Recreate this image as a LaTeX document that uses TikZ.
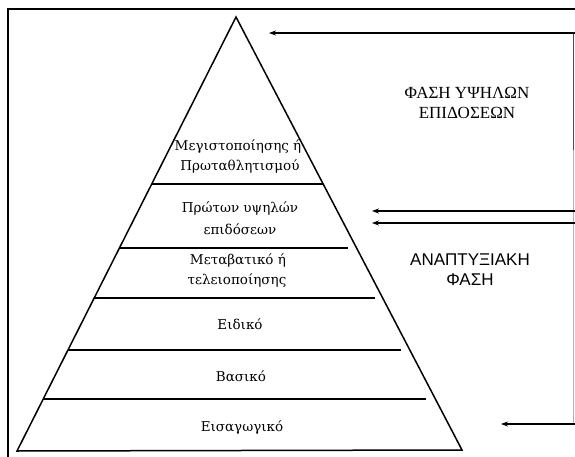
\documentclass[tikz,border=0pt]{standalone}
\usepackage{fontspec}
\setmainfont{DejaVu Serif}
\newfontfamily\phaseserif{Liberation Serif}
\newfontfamily\phasesans{Liberation Sans}
\usetikzlibrary{arrows.meta}
\begin{document}
\begin{tikzpicture}[x=1pt,y=-1pt,
  level/.style={line width=1.2pt},
  side/.style={line width=1.5pt, line join=miter},
  label/.style={font=\fontsize{13.5}{15}\selectfont, align=center, inner sep=0pt},
  phase/.style={align=center, inner sep=0pt},
  arr/.style={line width=1.1pt, -{Stealth[length=7pt,width=5pt]}}]
\useasboundingbox (0,0) rectangle (575,457);

% outer frame (top and left edges)
\draw[line width=2pt] (8,457) -- (8,9.5) -- (575,9.5);

% pyramid corners
\coordinate (apex) at (236,17);
\coordinate (bl) at (17,451);
\coordinate (br) at (462,450);
\draw[side] (bl) -- (apex) -- (br) -- cycle;

% level separators
\draw[level] (152,184) -- (323,184);
\draw[level] (119,248) -- (348,248);
\draw[level] (94,298) -- (375,298);
\draw[level] (68,350) -- (401,350);
\draw[level] (43,399) -- (426,399);

% level names
\node[label] (l1) at (238,147) {Μεγιστοποίησης ή};
\node[label] (l1b) at (240,167) {Πρωταθλητισμού};
\node[label] (l2) at (240,209) {Πρώτων υψηλών};
\node[label] (l2b) at (240,229) {επιδόσεων};
\node[label] (l3) at (238,261) {Μεταβατικό ή};
\node[label] (l3b) at (237,281) {τελειοποίησης};
\node[label] (l4) at (240,324) {Ειδικό};
\node[label] (l5) at (241,376) {Βασικό};
\node[label] (l6) at (242,428) {Εισαγωγικό};

% phase names
\node[phase, font=\phaseserif\fontsize{17}{20}\selectfont] (ph1) at (467,103)
  {ΦΑΣΗ ΥΨΗΛΩΝ\\ΕΠΙΔΟΣΕΩΝ};
\node[phase, font=\phasesans\fontsize{17}{20}\selectfont] (ph2) at (470,270)
  {ΑΝΑΠΤΥΞΙΑΚΗ\\ΦΑΣΗ};

% brackets on the right edge
\coordinate (rtop) at (573.5,33);
\coordinate (rmid) at (573.5,150);
\coordinate (rbot) at (573.5,424);
\draw[black!70, line width=0.8pt] (rtop) -- (rmid);
\draw[black!30, line width=0.8pt] (rmid) -- (rbot);

% arrows pointing at the pyramid
\coordinate (a1) at (575,33);   \coordinate (t1) at (269,33);
\coordinate (a2) at (575,211);  \coordinate (t2) at (372,211);
\coordinate (a3) at (575,223);  \coordinate (t3) at (372,223);
\coordinate (a4) at (575,424);  \coordinate (t4) at (501,424);
\draw[arr] (a1) -- (t1);
\draw[arr] (a2) -- (t2);
\draw[arr] (a3) -- (t3);
\draw[arr] (a4) -- (t4);
\end{tikzpicture}
\end{document}
